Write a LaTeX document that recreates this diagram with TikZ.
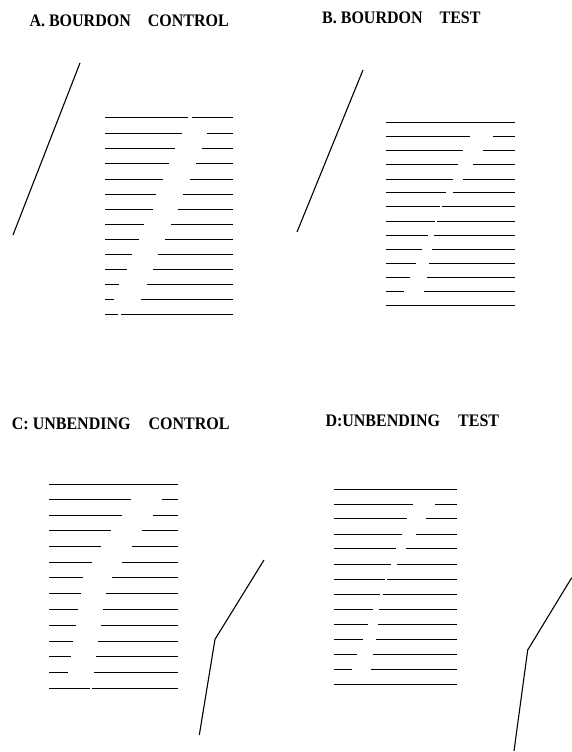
\documentclass[tikz,border=0pt]{standalone}
\usepackage{fontspec}
\usepackage{graphicx}
\setmainfont{Liberation Serif}
\begin{document}
\begin{tikzpicture}[x=1pt,y=-1pt,
  hline/.style={line width=1pt, black},
  slash/.style={line width=1.1pt, black, line join=miter},
  title/.style={anchor=base west, inner sep=0pt, font=\bfseries\fontsize{16}{18}\selectfont}]
\useasboundingbox (0,0) rectangle (572,752);

% titles
\node[title] (tA) at (29.3,26.7) {\scalebox{1}[1.1]{A. BOURDON\hspace*{17pt}CONTROL}};
\node[title] (tB) at (322,24) {\scalebox{1}[1.1]{B. BOURDON\hspace*{17pt}TEST}};
\node[title] (tC) at (11.7,429.3) {\scalebox{1}[1.1]{C: UNBENDING\hspace*{18pt}CONTROL}};
\node[title] (tD) at (325.3,426.7) {\scalebox{1}[1.1]{D:UNBENDING\hspace*{18pt}TEST}};

% panel A
\foreach \y/\a/\b in {117/187.7/192.3, 133/181.7/207.3, 148/175/201.7, 163/169/196,
  179/163.3/190, 194/156/183.3, 209/153.3/177.7, 224/144/171, 239/139/165,
  254/132.3/158.3, 269/126.7/152.7, 284/119.3/146.7, 299/114/140.7, 314/118/121}
  {\draw[hline] (105,\y) -- (\a,\y); \draw[hline] (\b,\y) -- (233,\y);}
\draw[slash] (80,63) -- (13,235);

% panel B
\foreach \y/\a/\b in {122.7/450/450, 136/470/493.3, 150.7/463.3/483.3, 164.3/458.3/473.3,
  179/452.7/462.7, 192.3/446/452.7, 206.7/440/442, 221/435/437.3, 235/428.3/434.3,
  249/421.7/431.7, 263.3/416/429.3, 277.3/410/427.3, 291.7/404.3/424, 305/450/450}
  {\draw[hline] (386,\y) -- (\a,\y); \draw[hline] (\b,\y) -- (515,\y);}
\draw[slash] (363,70) -- (297,232);

% panel C
\foreach \y/\a/\b in {484/110/110, 499.3/131/161.7, 515/121.7/152.7, 530.7/111/142.3,
  546.7/100.7/131.7, 562/91.7/122.3, 577.3/82.7/112.3, 593.3/80.7/106, 609.3/77.7/103.3,
  625/75.7/101, 641.7/73.3/98.3, 656.7/71/96, 672.3/68.3/94, 688.3/90/91.7}
  {\draw[hline] (49.3,\y) -- (\a,\y); \draw[hline] (\b,\y) -- (178.3,\y);}
\draw[slash] (264,560) -- (215,639.3) -- (199.3,735);

% panel D
\foreach \y/\a/\b in {489/400/400, 504/413.3/435, 518.3/407.3/426, 534/401.7/416,
  548.3/396/406, 564/390.7/396.7, 579/385/386.7, 594/380/382.7, 609.3/373.3/379.3,
  624/368.3/378.3, 639.3/362.7/376, 654.3/357.3/373.3, 669.3/352.3/371, 684.3/400/400}
  {\draw[hline] (334.3,\y) -- (\a,\y); \draw[hline] (\b,\y) -- (456.7,\y);}
\draw[slash] (571.7,577.7) -- (527.7,650) -- (514,751);
\end{tikzpicture}
\end{document}
